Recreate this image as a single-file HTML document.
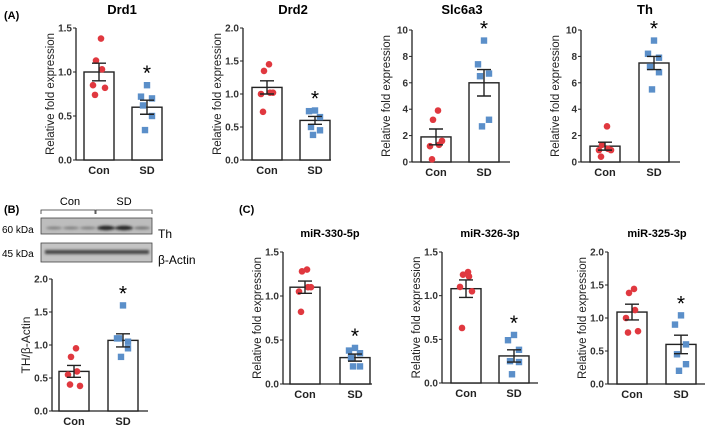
<!DOCTYPE html>
<html><head><meta charset="utf-8">
<style>
html,body{margin:0;padding:0;background:#fff;}
svg{display:block;font-family:"Liberation Sans",Arial,sans-serif;}
</style></head>
<body>
<svg id="fig" width="709" height="428" viewBox="0 0 709 428" xmlns="http://www.w3.org/2000/svg">
<defs>
<filter id="blur" x="-20%" y="-100%" width="140%" height="300%"><feGaussianBlur stdDeviation="1.2"/></filter>
</defs>
<text x="4" y="19" font-size="11" font-weight="bold">(A)</text>
<text x="4" y="213" font-size="11" font-weight="bold">(B)</text>
<text x="239" y="213" font-size="11" font-weight="bold">(C)</text>
<g>
  <text x="70" y="205" font-size="11" text-anchor="middle">Con</text>
  <text x="124" y="205" font-size="11" text-anchor="middle">SD</text>
  <path d="M41 214 V210 H95 V214 M96 214 V210 H152 V214" fill="none" stroke="#333" stroke-width="0.8"/>
  <rect x="41" y="218" width="111" height="16" fill="#bdbdbd" stroke="#444" stroke-width="0.8"/>
  <rect x="41" y="243" width="111" height="19" fill="#c4c4c4" stroke="#444" stroke-width="0.8"/>
  <g filter="url(#blur)">
    <ellipse cx="54" cy="228" rx="8" ry="1.3" fill="#777"/>
    <ellipse cx="71" cy="228" rx="8" ry="1.3" fill="#777"/>
    <ellipse cx="88" cy="228" rx="8" ry="1.3" fill="#777"/>
    <ellipse cx="106" cy="228" rx="9" ry="2.2" fill="#222"/>
    <ellipse cx="124" cy="228" rx="9" ry="2.2" fill="#222"/>
    <ellipse cx="142" cy="228" rx="8" ry="1.3" fill="#666"/>
    <rect x="45" y="250" width="104" height="4" fill="#444"/>
  </g>
  <text x="2" y="233" font-size="10">60 kDa</text>
  <text x="2" y="257" font-size="10">45 kDa</text>
  <text x="158" y="238" font-size="12">Th</text>
  <text x="158" y="264" font-size="12">β-Actin</text>
</g>
<g id="charts"></g>
</svg>
<script>
// ---- data ----
const categories = ["Con","SD"];
const drd1Con = [1.38,1.13,1.03,0.85,0.82,0.74], drd1SD = [0.85,0.72,0.70,0.62,0.50,0.34];
const drd1Mean = [1.0,0.6], drd1Sem = [0.1,0.08];
const drd2Con = [1.45,1.35,1.02,1.0,1.02,0.73], drd2SD = [0.75,0.74,0.65,0.50,0.45,0.38];
const drd2Mean = [1.1,0.6], drd2Sem = [0.1,0.06];
const slcCon = [3.9,3.2,1.3,1.2,1.6,0.2], slcSD = [9.2,7.4,6.7,6.5,3.2,2.7];
const slcMean = [1.9,6.0], slcSem = [0.6,1.0];
const thCon = [2.7,1.3,1.0,0.9,0.9,0.4], thSD = [9.2,8.2,7.9,7.2,6.8,5.5];
const thMean = [1.2,7.5], thSem = [0.3,0.5];
const wbCon = [0.95,0.82,0.60,0.55,0.38,0.40], wbSD = [1.60,1.10,1.05,1.10,0.95,0.82];
const wbMean = [0.6,1.07], wbSem = [0.09,0.1];
const m330Con = [1.30,1.28,1.10,1.05,1.10,0.82], m330SD = [0.41,0.38,0.35,0.30,0.20,0.20];
const m330Mean = [1.1,0.3], m330Sem = [0.07,0.04];
const m326Con = [1.27,1.24,1.22,1.10,1.05,0.63], m326SD = [0.55,0.49,0.38,0.25,0.24,0.10];
const m326Mean = [1.08,0.31], m326Sem = [0.1,0.07];
const m325Con = [1.44,1.38,1.12,1.00,0.80,0.78], m325SD = [1.04,0.90,0.60,0.45,0.30,0.20];
const m325Mean = [1.09,0.6], m325Sem = [0.12,0.14];
const ticks15 = ["0.0","0.5","1.0","1.5"], ticks20 = ["0.0","0.5","1.0","1.5","2.0"], ticks10 = ["0","2","4","6","8","10"];

const jitter = [[2,-3,3,-6,6,-4],[0,-6,5,-4,5,-2]];
const NS="http://www.w3.org/2000/svg";
const root=document.getElementById('charts');
function mk(tag,attrs,parent){const e=document.createElementNS(NS,tag);for(const k in attrs)e.setAttribute(k,attrs[k]);(parent||root).appendChild(e);return e;}

function chart(o){
  const g=mk('g',{});
  
  
  const maxV=parseFloat(o.ticks[o.ticks.length-1]);
  const y=v=>o.y0-(v/maxV)*(o.y0-o.y1);
  if(o.title){const t=mk('text',{x:o.tx,y:o.ty,'font-size':o.tfs,'font-weight':'bold','text-anchor':'middle'},g);t.textContent=o.title;
    
    }
  const yt=mk('text',{x:0,y:0,'font-size':o.ytfs||11.5,'text-anchor':'middle',fill:'#222',transform:`translate(${o.ax-22},${(o.y0+o.y1)/2}) rotate(-90)`},g);
  yt.textContent=o.ytitle;
  
  
  const ya=mk('line',{x1:o.ax,y1:o.y1,x2:o.ax,y2:o.y0,stroke:'#222','stroke-width':1.3},g);
  
  
  const xa=mk('line',{x1:o.ax,y1:o.y0,x2:o.xe,y2:o.y0,stroke:'#222','stroke-width':1.3},g);
  
  
  o.ticks.forEach(tk=>{const v=parseFloat(tk),yy=y(v);
    mk('line',{x1:o.ax-3,y1:yy,x2:o.ax,y2:yy,stroke:'#222','stroke-width':1},g);
    const t=mk('text',{x:o.ax-4,y:yy+3.5,'font-size':10,'font-weight':'bold','text-anchor':'end',fill:'#333'},g);t.textContent=tk;
    
    });
  const pts=[o.con,o.sd];
  for(let i=0;i<2;i++){
    const bx=o.bars[i], cx=bx+15, top=y(o.mean[i]);
    const r=mk('rect',{x:bx,y:top,width:30,height:o.y0-top,fill:'#fff',stroke:'#222','stroke-width':1.4},g);
    
    
    pts[i].forEach((v,j)=>{const px=cx+jitter[i][j],py=y(v);
      let p;
      if(i===0){p=mk('circle',{cx:px,cy:py,r:3.3,fill:'#e0383f'},g);}
      else{p=mk('rect',{x:px-3.2,y:py-3.2,width:6.4,height:6.4,fill:'#5b8fc9'},g);}
      
      });
    const hi=y(o.mean[i]+o.sem[i]),lo=y(o.mean[i]-o.sem[i]);
    const eb=mk('path',{d:`M${cx} ${hi} V${lo} M${cx-7} ${hi} H${cx+7} M${cx-7} ${lo} H${cx+7}`,stroke:'#222','stroke-width':1.4,fill:'none'},g);
    
    
    const cl=mk('text',{x:cx,y:o.y0+14,'font-size':11,'font-weight':'bold','text-anchor':'middle',fill:'#222'},g);cl.textContent=categories[i];
    
    
  }
  const s=mk('text',{x:o.bars[1]+15,y:y(Math.max(...o.sd))-5,'font-size':21,'text-anchor':'middle'},g);
  s.textContent='*';
  
  
}
const RF='Relative fold expression';
chart({name:'drd1-chart',title:'Drd1',tx:122,ty:14,tfs:13,ytitle:RF,ax:76,y0:160,y1:28,xe:163,bars:[84,132],ticks:ticks15,con:drd1Con,sd:drd1SD,mean:drd1Mean,sem:drd1Sem});
chart({name:'drd2-chart',title:'Drd2',tx:293,ty:14,tfs:13,ytitle:RF,ax:243,y0:160,y1:28,xe:331,bars:[252,300],ticks:ticks20,con:drd2Con,sd:drd2SD,mean:drd2Mean,sem:drd2Sem});
chart({name:'slc6a3-chart',title:'Slc6a3',tx:462,ty:14,tfs:13,ytitle:RF,ax:412,y0:162,y1:30,xe:510,bars:[421,469],ticks:ticks10,con:slcCon,sd:slcSD,mean:slcMean,sem:slcSem});
chart({name:'th-chart',title:'Th',tx:645,ty:14,tfs:13,ytitle:RF,ax:581,y0:162,y1:30,xe:680,bars:[590,639],ticks:ticks10,con:thCon,sd:thSD,mean:thMean,sem:thSem});
chart({name:'th-actin-chart',title:'',ytitle:'TH/β-Actin',ytfs:12,ax:52,y0:411,y1:279,xe:148,bars:[59,108],ticks:ticks20,con:wbCon,sd:wbSD,mean:wbMean,sem:wbSem});
chart({name:'mir330-chart',title:'miR-330-5p',tx:330,ty:237,tfs:11,ytitle:RF,ax:283,y0:384,y1:252,xe:372,bars:[290,340],ticks:ticks15,con:m330Con,sd:m330SD,mean:m330Mean,sem:m330Sem});
chart({name:'mir326-chart',title:'miR-326-3p',tx:490,ty:237,tfs:11,ytitle:RF,ax:442,y0:383,y1:252,xe:538,bars:[451,499],ticks:ticks15,con:m326Con,sd:m326SD,mean:m326Mean,sem:m326Sem});
chart({name:'mir325-chart',title:'miR-325-3p',tx:657,ty:237,tfs:11,ytitle:RF,ax:608,y0:384,y1:252,xe:705,bars:[617,666],ticks:ticks20,con:m325Con,sd:m325SD,mean:m325Mean,sem:m325Sem});
</script>
</body></html>
